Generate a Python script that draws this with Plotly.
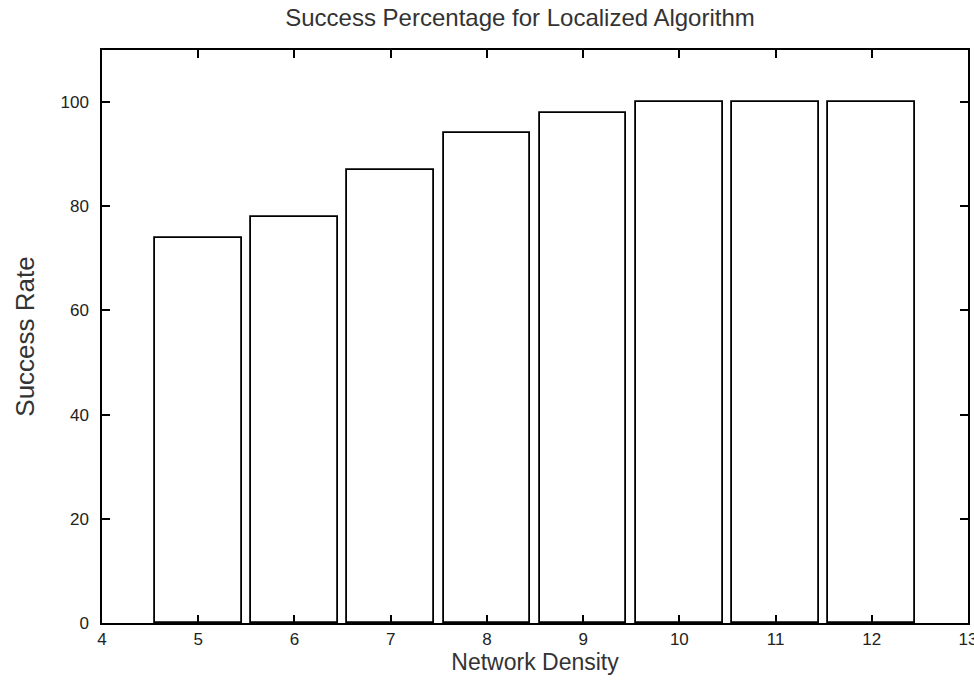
import plotly.graph_objects as go

density = [5, 6, 7, 8, 9, 10, 11, 12]
success_rate = [74, 78, 87, 94, 98, 100, 100, 100]
x_ticks = [4, 5, 6, 7, 8, 9, 10, 11, 12, 13]
y_ticks = [0, 20, 40, 60, 80, 100]

fig = go.Figure()
fig.add_trace(go.Bar(
    x=density, y=success_rate, width=0.9,
    marker=dict(color="white", line=dict(color="black", width=1.8)),
    showlegend=False,
))

font_fam = "Liberation Sans, Arial, sans-serif"
fig.update_layout(
    width=974, height=680,
    margin=dict(l=102, r=6, t=50, b=57, autoexpand=False),
    paper_bgcolor="white", plot_bgcolor="white",
    font=dict(family=font_fam, color="#222"),
    title=dict(text="Success Percentage for Localized Algorithm",
               x=0.4827, xref="paper", xanchor="center",
               y=1, yref="container", yanchor="top",
               pad=dict(t=9),
               font=dict(size=24, family=font_fam, color="#333")),
    bargap=0,
)
fig.update_xaxes(
    range=[4, 13], tickvals=x_ticks, ticktext=[str(v) for v in x_ticks],
    showgrid=False, zeroline=False, automargin=False,
    showline=True, linecolor="black", linewidth=1.5, mirror="ticks",
    ticks="inside", ticklen=8, tickwidth=1.5, tickcolor="black",
    tickfont=dict(size=17, color="#222"), ticklabeloverflow="allow",
    title=dict(text="Network Density", font=dict(size=23, color="#333"), standoff=3),
)
fig.update_yaxes(
    range=[0, 110], tickvals=y_ticks, ticktext=[str(v) for v in y_ticks],
    showgrid=False, zeroline=False, automargin=False,
    showline=True, linecolor="black", linewidth=1.5, mirror="ticks",
    ticks="inside", ticklen=8, tickwidth=1.5, tickcolor="black",
    tickfont=dict(size=17, color="#222"), ticklabelstandoff=8,
    title=dict(text="Success Rate", font=dict(size=26, color="#333"), standoff=18),
)

fig.write_html("out.html", config={"displayModeBar": False},
               post_script="document.body.style.margin='0';")
